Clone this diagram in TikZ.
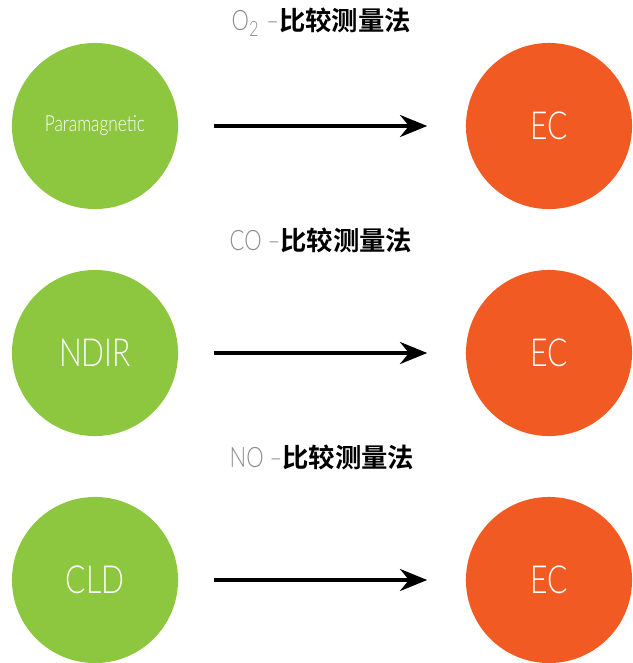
\documentclass[tikz,border=0pt]{standalone}
\usepackage{fontspec}
\usetikzlibrary{arrows.meta,positioning}
\newfontfamily\thinfont[FakeStretch=0.78,Ligatures=TeX]{Lato Light}
\newfontfamily\cjkbold{Noto Sans CJK SC Bold}
\definecolor{gasgreen}{HTML}{8DC63F}
\definecolor{ecorange}{HTML}{F15A22}
\definecolor{labelgray}{HTML}{8C8C8C}

\begin{document}
\begin{tikzpicture}[x=0.01cm,y=-0.01cm,
    gas/.style={circle,fill=gasgreen,inner sep=0pt,minimum size=1.66cm,text=white,font=\thinfont},
    ec/.style={circle,fill=ecorange,inner sep=0pt,minimum size=1.66cm,text=white,font=\thinfont\fontsize{11}{11}\selectfont},
    conv/.style={-{Stealth[length=7.7pt,width=6.2pt]},line width=1.4pt,shorten <=0.35cm,shorten >=0.38cm},
    title/.style={anchor=west,inner sep=0pt}]
  \useasboundingbox (0,0) rectangle (633,663);

  \node (g1) at (95,126) [gas]{\fontsize{6.3}{6.3}\selectfont Paramagnetic};
  \node (e1) at (549,126) [ec]{EC};
  \node (g2) at (95,353) [gas]{\fontsize{11}{11}\selectfont NDIR};
  \node (e2) at (549,353) [ec]{EC};
  \node (g3) at (95,580) [gas]{\fontsize{11}{11}\selectfont CLD};
  \node (e3) at (549,580) [ec]{EC};

  % titles above each row
  \node (t1) at (231,22) [title]{{\thinfont\fontsize{8}{8}\selectfont\color{labelgray}O\textsubscript{2} \textendash}{\cjkbold\fontsize{7.5}{8}\selectfont 比较测量法}};
  \node (t2) at (229,240) [title]{{\thinfont\fontsize{8}{8}\selectfont\color{labelgray}CO \textendash}{\cjkbold\fontsize{7.5}{8}\selectfont 比较测量法}};
  \node (t3) at (229,457) [title]{{\thinfont\fontsize{8}{8}\selectfont\color{labelgray}NO \textendash}{\cjkbold\fontsize{7.5}{8}\selectfont 比较测量法}};

  \draw[conv] (g1) -- (e1);
  \draw[conv] (g2) -- (e2);
  \draw[conv] (g3) -- (e3);
\end{tikzpicture}
\end{document}
